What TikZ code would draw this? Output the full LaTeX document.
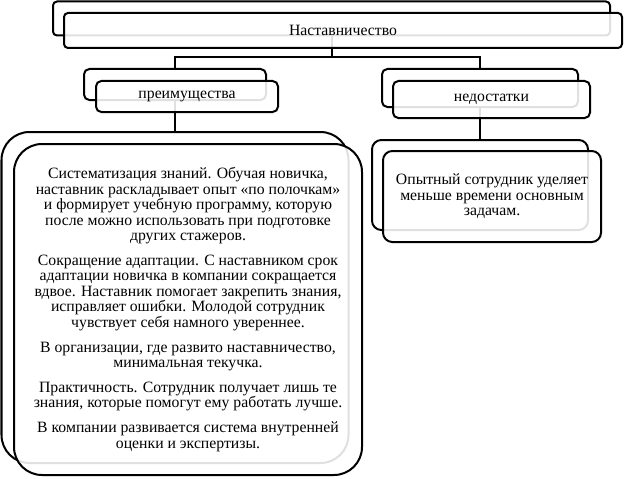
\documentclass[tikz,border=0pt]{standalone}
\usepackage{fontspec}
\setmainfont{LiberationSerif}[Extension=.ttf,UprightFont=*-Regular,BoldFont=*-Bold]
\usetikzlibrary{positioning,calc}
\def\pxu{0.75pt}

\begin{document}
\begin{tikzpicture}[x=0.75pt,y=-0.75pt,
    backbox/.style={draw=black,line width=1.5pt,fill=white,inner sep=0pt},
    frontbox/.style={draw=black,line width=1.5pt,fill=white,fill opacity=0.88,text opacity=1,
        inner sep=0pt,align=center,font=\fontsize{11.8}{11.6}\selectfont},
    link/.style={draw=black,line width=1.5pt}]
    \useasboundingbox (0,0) rectangle (624,478);

    % back boxes
    \node[backbox,rounded corners=3pt,minimum width=557*\pxu,minimum height=34*\pxu] (topback) at (331.5,18.5) {};
    \node[backbox,rounded corners=4pt,minimum width=182*\pxu,minimum height=31*\pxu] (proback) at (175,84.5) {};
    \node[backbox,rounded corners=4pt,minimum width=196*\pxu,minimum height=38*\pxu] (conback) at (480,88) {};
    \node[backbox,rounded corners=21pt,minimum width=347*\pxu,minimum height=331*\pxu] (prolist) at (175,297.5) {};
    \node[backbox,rounded corners=7pt,minimum width=216*\pxu,minimum height=90*\pxu] (conlist) at (480,185) {};

    % connectors
    \coordinate (bus) at (331.5,57);
    \draw[link] (topback.south) -- (bus);
    \draw[link] (proback.north) |- (bus) -| (conback.north);
    \draw[link] (proback.south) -- (prolist.north);
    \draw[link] (conback.south) -- (conlist.north);

    % front boxes
    \node[frontbox,rounded corners=3pt,minimum width=558*\pxu,minimum height=35*\pxu] (topfront) at (343,30.5) {Наставничество};
    \node[frontbox,rounded corners=4pt,minimum width=182*\pxu,minimum height=31*\pxu] (profront) at (187,96.5) {преимущества};
    \node[frontbox,rounded corners=4pt,minimum width=197*\pxu,minimum height=37*\pxu] (confront) at (491.5,99.5) {недостатки};
    \node[frontbox,rounded corners=21pt,minimum width=348*\pxu,minimum height=331*\pxu] (prolistfront) at (188,309.5) {%
        Систематизация знаний. Обучая новичка,\\
        наставник раскладывает опыт «по полочкам»\\
        и формирует учебную программу, которую\\
        после можно использовать при подготовке\\
        других стажеров.\\[7pt]
        Сокращение адаптации. С наставником срок\\
        адаптации новичка в компании сокращается\\
        вдвое. Наставник помогает закрепить знания,\\
        исправляет ошибки. Молодой сотрудник\\
        чувствует себя намного увереннее.\\[7pt]
        В организации, где развито наставничество,\\
        минимальная текучка.\\[7pt]
        Практичность. Сотрудник получает лишь те\\
        знания, которые помогут ему работать лучше.\\[7pt]
        В компании развивается система внутренней\\
        оценки и экспертизы.};
    \node[frontbox,rounded corners=7pt,minimum width=218*\pxu,minimum height=91*\pxu] (conlistfront) at (492,196.5) {%
        Опытный сотрудник уделяет\\
        меньше времени основным\\
        задачам.};
\end{tikzpicture}
\end{document}
